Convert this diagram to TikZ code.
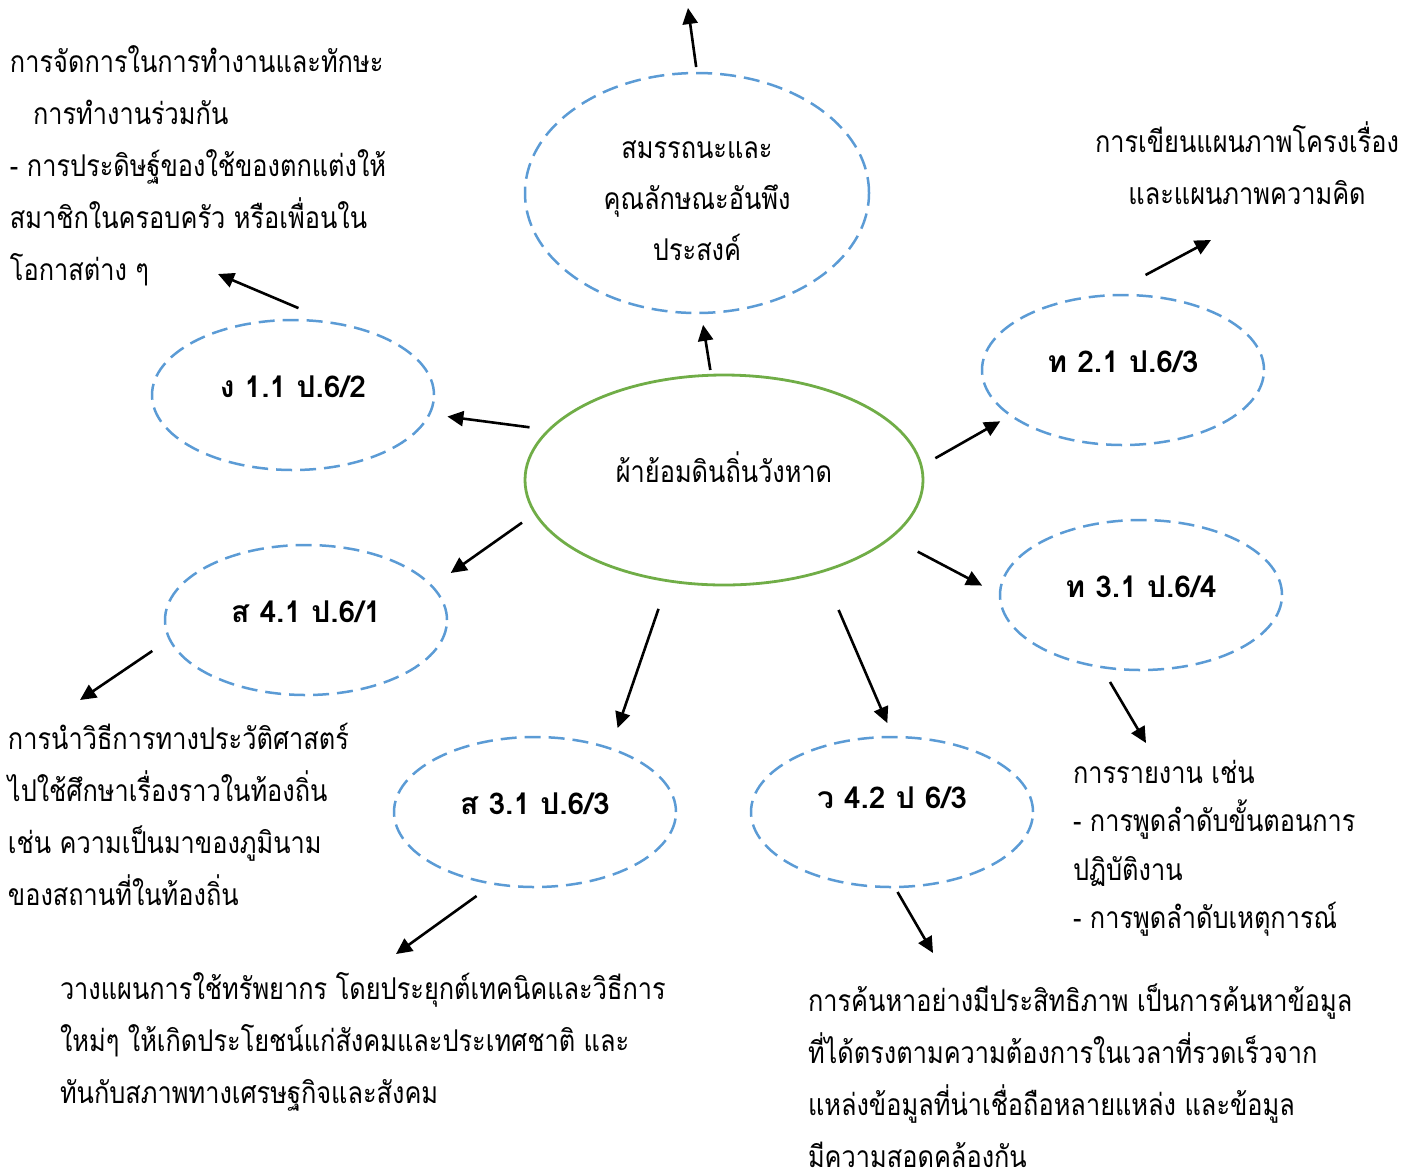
\documentclass[tikz,border=0pt]{standalone}
\usepackage{fontspec}
\setmainfont{Loma}[Script=Thai, FakeStretch=0.845]
\newfontfamily\labelfont{Loma}[Script=Thai]
\usetikzlibrary{arrows.meta,shapes.geometric}

\definecolor{ellblue}{RGB}{91,155,213}
\definecolor{ellgreen}{RGB}{112,173,71}

\newcommand\lift[2][4pt]{\raisebox{#1}[\height][\depth]{#2}}

\begin{document}
\begin{tikzpicture}[x=0.5pt, y=-0.5pt,
    every node/.style={inner sep=0pt, outer sep=0pt},
    hub/.style={ellipse, draw=ellgreen, line width=1.4pt, minimum width=199pt, minimum height=105pt, font=\fontsize{15}{25.5}\selectfont},
    goal/.style={ellipse, draw=ellblue, line width=1.25pt, dash pattern=on 8pt off 4pt, minimum width=141pt, minimum height=75pt, font=\labelfont\bfseries\fontsize{15}{20}\selectfont},
    note/.style={anchor=north west, align=left, font=\fontsize{15}{26}\selectfont},
    arr/.style={-{Triangle[length=8pt, width=7.5pt]}, line width=1.3pt}]
  \useasboundingbox (0,0) rectangle (1418,1174);

  % Ellipses
  \node[hub] (main) at (724,480) {\lift[6.5pt]{ผ้าย้อมดินถิ่นวังหาด}};
  \node[goal, minimum width=172pt, minimum height=120pt, font=\fontsize{15}{25.5}\selectfont] (comp) at (697,193) {\lift[-3pt]{\begin{tabular}{@{}c@{}}สมรรถนะและ\\คุณลักษณะอันพึง\\ประสงค์\end{tabular}}};
  \node[goal] (ng) at (293,395) {\lift{ง 1.1 ป.6/2}};
  \node[goal] (sa41) at (306,620) {\lift{ส 4.1 ป.6/1}};
  \node[goal] (tho21) at (1123,370) {\lift{ท 2.1 ป.6/3}};
  \node[goal] (tho31) at (1141,595) {\lift{ท 3.1 ป.6/4}};
  \node[goal] (sa31) at (535,812) {\lift{ส 3.1 ป.6/3}};
  \node[goal] (wo42) at (892,812) {\lift[7pt]{ว 4.2 ป 6/3}};

  % Texts
  \node[note] (txtA) at (10,46) {การจัดการในการทำงานและทักษะ\\\hspace*{11.5pt}การทำงานร่วมกัน\\- การประดิษฐ์ของใช้ของตกแต่งให้\\สมาชิกในครอบครัว หรือเพื่อนใน\\โอกาสต่าง ๆ};
  \node[note, align=center, anchor=north] (txtB) at (1247,122) {การเขียนแผนภาพโครงเรื่อง\\และแผนภาพความคิด};
  \node[note] (txtC) at (8,723) {การนำวิธีการทางประวัติศาสตร์\\ไปใช้ศึกษาเรื่องราวในท้องถิ่น\\เช่น ความเป็นมาของภูมินาม\\ของสถานที่ในท้องถิ่น};
  \node[note, font=\fontsize{15}{24.2}\selectfont] (txtD) at (1073,760) {การรายงาน เช่น\\- การพูดลำดับขั้นตอนการ\\ปฏิบัติงาน\\- การพูดลำดับเหตุการณ์};
  \node[note] (txtE) at (60,972) {วางแผนการใช้ทรัพยากร โดยประยุกต์เทคนิคและวิธีการ\\ใหม่ๆ ให้เกิดประโยชน์แก่สังคมและประเทศชาติ และ\\ทันกับสภาพทางเศรษฐกิจและสังคม};
  \node[note] (txtF) at (808,984) {การค้นหาอย่างมีประสิทธิภาพ เป็นการค้นหาข้อมูล\\ที่ได้ตรงตามความต้องการในเวลาที่รวดเร็วจาก\\แหล่งข้อมูลที่น่าเชื่อถือหลายแหล่ง และข้อมูล\\มีความสอดคล้องกัน};

  % Arrow ends
  \coordinate (tipTop) at (688,8);
  \coordinate (tipA) at (218,274);
  \coordinate (tipB) at (1211,240);
  \coordinate (tipC) at (80,700);
  \coordinate (tipD) at (1146,743);
  \coordinate (tipE) at (396,954);
  \coordinate (tipF) at (933,953);

  % Arrows
  \draw[arr, shorten <=2.65pt, shorten >=6pt] (main.97) -- (comp.-88);
  \draw[arr, shorten <=3pt] (comp.90) -- (tipTop);
  \draw[arr, shorten <=9.9pt, shorten >=9.1pt] (main.164) -- (ng.-8);
  \draw[arr, shorten <=19.5pt] (ng.60) -- (tipA);
  \draw[arr, shorten <=8.1pt, shorten >=11.5pt] (main.-170) -- (sa41.15);
  \draw[arr, shorten <=10.5pt] (sa41.-172) -- (tipC);
  \draw[arr, shorten <=14.85pt, shorten >=10.9pt] (main.-119) -- (sa31.40);
  \draw[arr, shorten <=10.5pt] (sa31.-120) -- (tipE);
  \draw[arr, shorten <=21pt, shorten >=7.6pt] (main.-43) -- (wo42.89);
  \draw[arr, shorten <=2.9pt] (wo42.-88) -- (tipF);
  \draw[arr, shorten <=15.3pt, shorten >=10.1pt] (main.-19) -- (tho31.180);
  \draw[arr, shorten <=8.75pt] (tho31.-119) -- (tipD);
  \draw[arr, shorten <=8.1pt, shorten >=6pt] (main.4) -- (tho21.-158);
  \draw[arr, shorten <=21.75pt] (tho21.102) -- (tipB);
\end{tikzpicture}
\end{document}
